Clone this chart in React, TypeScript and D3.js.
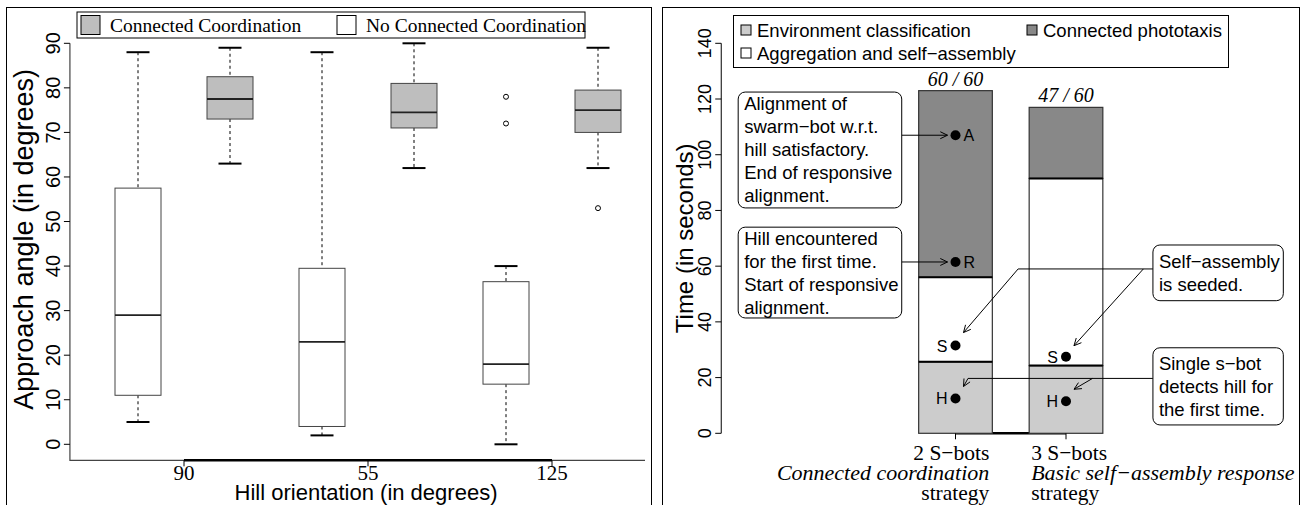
import React, { useEffect, useRef } from 'react';
import * as d3 from 'd3';

// left panel: approach angle per hill orientation
const orientationTicks = ['90', '55', '125'];
const boxKind = ['open', 'conn', 'open', 'conn', 'open', 'conn'];
const whiskerLow = [5, 63, 2, 62, 0, 62];
const quart1 = [11, 73, 4, 71, 13.5, 70];
const medians = [29, 77.5, 23, 74.5, 18, 75];
const quart3 = [57.5, 82.5, 39.5, 81, 36.5, 79.5];
const whiskerHigh = [88, 89, 88, 90, 40, 89];
const outliers = [[], [], [], [], [72, 78], [53]];
const angleTicks = [0, 10, 20, 30, 40, 50, 60, 70, 80, 90];

// right panel: time spent per phase
const botLabels = ['2 S\u2212bots', '3 S\u2212bots'];
const strategyLabels = ['Connected coordination', 'Basic self\u2212assembly response'];
const envTime = [25.7, 24.3];
const aggTime = [30.3, 67.2];
const photoTime = [67, 25.5];
const successLabels = ['60 / 60', '47 / 60'];
const timeTicks = [0, 20, 40, 60, 80, 100, 120, 140];
const eventNames = ['A', 'R', 'S', 'H', 'S', 'H'];
const eventBar = [0, 0, 0, 0, 1, 1];
const eventTime = [107, 61.5, 31.5, 12.5, 27.5, 11.5];

const SANS = 'Liberation Sans, Arial, Helvetica, sans-serif';
const SERIF = 'Liberation Serif, Times New Roman, serif';

const App = () => {
  const svgRef = useRef(null);

  useEffect(() => {
    const svg = d3.select(svgRef.current);
    svg.selectAll('*').remove();

    // ---------- left panel ----------
    const left = svg.append('g');
    left.append('rect').attr('x', 6.5).attr('y', 7.5).attr('width', 645).attr('height', 520)
      .attr('fill', 'none').attr('stroke', '#000');

    const x = d3.scaleLinear().domain([1.5, 5.5]).range([184, 552]);
    const y = d3.scaleLinear().domain([0, 90]).range([444.3, 43.3]);
    const boxW = x(1.5) - x(1);
    const yBottom = y(-3.6);

    // L-shaped frame
    left.append('path')
      .attr('d', `M${x(0.26)},${y(90)}V${yBottom}H645`)
      .attr('fill', 'none').attr('stroke', '#444').attr('stroke-width', 1.2);

    angleTicks.forEach(t => {
      left.append('line').attr('x1', x(0.26) - 6).attr('x2', x(0.26)).attr('y1', y(t)).attr('y2', y(t))
        .attr('stroke', '#000');
      left.append('text')
        .attr('transform', `translate(${x(0.26) - 10},${y(t)}) rotate(-90)`)
        .attr('text-anchor', 'middle').attr('font-family', SANS).attr('font-size', 20)
        .text(t);
    });

    left.append('line').attr('x1', x(1.5)).attr('x2', x(5.5)).attr('y1', yBottom).attr('y2', yBottom)
      .attr('stroke', '#000').attr('stroke-width', 2.5);
    orientationTicks.forEach((t, i) => {
      const px = x(1.5 + i * 2);
      left.append('line').attr('x1', px).attr('x2', px).attr('y1', yBottom).attr('y2', yBottom + 6)
        .attr('stroke', '#000');
      left.append('text').attr('x', px).attr('y', 480).attr('text-anchor', 'middle')
        .attr('font-family', SERIF).attr('font-size', 21).text(t);
    });

    left.append('text').attr('x', 366).attr('y', 500).attr('text-anchor', 'middle')
      .attr('font-family', SANS).attr('font-size', 22).text('Hill orientation (in degrees)');
    left.append('text').attr('transform', `translate(33,${y(46)}) rotate(-90)`)
      .attr('text-anchor', 'middle').attr('font-family', SANS).attr('font-size', 27)
      .text('Approach angle (in degrees)');

    boxKind.forEach((k, i) => {
      const cx = x(i + 1);
      const g = left.append('g');
      g.append('line').attr('x1', cx).attr('x2', cx).attr('y1', y(whiskerHigh[i])).attr('y2', y(quart3[i]))
        .attr('stroke', '#000').attr('stroke-dasharray', '3,3');
      g.append('line').attr('x1', cx).attr('x2', cx).attr('y1', y(quart1[i])).attr('y2', y(whiskerLow[i]))
        .attr('stroke', '#000').attr('stroke-dasharray', '3,3');
      [whiskerHigh[i], whiskerLow[i]].forEach(v => {
        g.append('line').attr('x1', cx - boxW / 4).attr('x2', cx + boxW / 4).attr('y1', y(v)).attr('y2', y(v))
          .attr('stroke', '#000').attr('stroke-width', 2);
      });
      g.append('rect').attr('x', cx - boxW / 2).attr('y', y(quart3[i]))
        .attr('width', boxW).attr('height', y(quart1[i]) - y(quart3[i]))
        .attr('fill', k === 'conn' ? '#bebebe' : '#fff').attr('stroke', '#444');
      g.append('line').attr('x1', cx - boxW / 2).attr('x2', cx + boxW / 2).attr('y1', y(medians[i])).attr('y2', y(medians[i]))
        .attr('stroke', '#222').attr('stroke-width', 1.8);
      outliers[i].forEach(v => {
        g.append('circle').attr('cx', cx).attr('cy', y(v)).attr('r', 2.5)
          .attr('fill', 'none').attr('stroke', '#000');
      });
    });

    // legend
    const lg = left.append('g');
    lg.append('rect').attr('x', 77).attr('y', 12).attr('width', 508).attr('height', 26)
      .attr('fill', '#fff').attr('stroke', '#000');
    [['Connected Coordination', '#bebebe', 81], ['No Connected Coordination', '#fff', 337]].forEach(([label, fill, px]) => {
      lg.append('rect').attr('x', px).attr('y', 15.5).attr('width', 19).attr('height', 19)
        .attr('fill', fill).attr('stroke', '#000');
      lg.append('text').attr('x', +px + 29).attr('y', 32).attr('font-family', SERIF).attr('font-size', 19.5)
        .text(label);
    });

    // ---------- right panel ----------
    const right = svg.append('g');
    right.append('rect').attr('x', 662.5).attr('y', 7.5).attr('width', 637).attr('height', 520)
      .attr('fill', 'none').attr('stroke', '#000');

    const xb = d3.scaleLinear().domain([1, 2.5]).range([955.5, 1066]);
    const yt = d3.scaleLinear().domain([0, 140]).range([433.3, 43.3]);
    const axisX = xb(-2.18);

    right.append('line').attr('x1', axisX).attr('x2', axisX).attr('y1', yt(0)).attr('y2', yt(140))
      .attr('stroke', '#000');
    timeTicks.forEach(t => {
      right.append('line').attr('x1', axisX - 6).attr('x2', axisX).attr('y1', yt(t)).attr('y2', yt(t))
        .attr('stroke', '#000');
      right.append('text').attr('transform', `translate(${axisX - 10},${yt(t)}) rotate(-90)`)
        .attr('text-anchor', 'middle').attr('font-family', SANS).attr('font-size', 18).text(t);
    });
    right.append('text').attr('transform', `translate(693,${yt(70)}) rotate(-90)`)
      .attr('text-anchor', 'middle').attr('font-family', SANS).attr('font-size', 24)
      .text('Time (in seconds)');

    const centers = [1, 2.5];
    const barW = xb(1.5) - xb(0.5);
    right.append('line').attr('x1', xb(1)).attr('x2', xb(2.5)).attr('y1', yt(0)).attr('y2', yt(0))
      .attr('stroke', '#000').attr('stroke-width', 2.5);

    centers.forEach((c, i) => {
      const x0 = xb(c) - barW / 2;
      const stack = [
        [0, envTime[i], '#cccccc'],
        [envTime[i], envTime[i] + aggTime[i], '#ffffff'],
        [envTime[i] + aggTime[i], envTime[i] + aggTime[i] + photoTime[i], '#888888'],
      ];
      stack.forEach(([a, b, fill]) => {
        right.append('rect').attr('x', x0).attr('y', yt(b)).attr('width', barW).attr('height', yt(a) - yt(b))
          .attr('fill', fill).attr('stroke', '#333').attr('stroke-width', 1.2);
      });
      [envTime[i], envTime[i] + aggTime[i]].forEach(v => {
        right.append('line').attr('x1', x0).attr('x2', x0 + barW).attr('y1', yt(v)).attr('y2', yt(v))
          .attr('stroke', '#000').attr('stroke-width', 2);
      });
      const top = envTime[i] + aggTime[i] + photoTime[i];
      right.append('text').attr('x', xb(c)).attr('y', yt(top) - 5).attr('text-anchor', 'middle')
        .attr('font-family', SERIF).attr('font-style', 'italic').attr('font-size', 20).text(successLabels[i]);

      right.append('line').attr('x1', xb(c)).attr('x2', xb(c)).attr('y1', yt(0)).attr('y2', yt(0) + 6)
        .attr('stroke', '#000');
      const anchor = i === 0 ? 'end' : 'start';
      const lx = i === 0 ? x0 + barW - 3 : x0 + 2;
      right.append('text').attr('x', lx).attr('y', 460).attr('text-anchor', anchor)
        .attr('font-family', SERIF).attr('font-size', 21.5).text(botLabels[i]);
      right.append('text').attr('x', lx).attr('y', 480).attr('text-anchor', anchor)
        .attr('font-family', SERIF).attr('font-style', 'italic').attr('font-size', 22).text(strategyLabels[i]);
      right.append('text').attr('x', lx).attr('y', 500).attr('text-anchor', anchor)
        .attr('font-family', SERIF).attr('font-size', 21.5).text('strategy');
    });

    // annotation boxes
    const notes = [
      { lines: ['Alignment of', 'swarm\u2212bot w.r.t.', 'hill satisfactory.', 'End of responsive', 'alignment.'], u0: -1.95, u1: 0.27, v0: 122.5, v1: 80.9 },
      { lines: ['Hill encountered', 'for the first time.', 'Start of responsive', 'alignment.'], u0: -1.95, u1: 0.27, v0: 74, v1: 41.4 },
      { lines: ['Self\u2212assembly', 'is seeded.'], u0: 3.68, u1: 5.45, v0: 67.6, v1: 47.6 },
      { lines: ['Single s\u2212bot', 'detects hill for', 'the first time.'], u0: 3.68, u1: 5.45, v0: 30.7, v1: 3 },
    ];

    const arrowHead = (x1, y1, x2, y2) => {
      const a = Math.atan2(y2 - y1, x2 - x1);
      const len = 8;
      const s = Math.PI / 7;
      return `M${x2 - len * Math.cos(a - s)},${y2 - len * Math.sin(a - s)}L${x2},${y2}L${x2 - len * Math.cos(a + s)},${y2 - len * Math.sin(a + s)}`;
    };
    const arrow = (pts) => {
      const p = pts.map(([a, b]) => `${a},${b}`).join('L');
      const [x1, y1] = pts[pts.length - 2];
      const [x2, y2] = pts[pts.length - 1];
      right.append('path').attr('d', `M${p}`).attr('fill', 'none').attr('stroke', '#000');
      right.append('path').attr('d', arrowHead(x1, y1, x2, y2)).attr('fill', 'none').attr('stroke', '#000');
    };

    const ev = eventTime.map((t, i) => [xb(centers[eventBar[i]]), yt(t)]);
    // box -> A, box -> R
    arrow([[xb(0.27), ev[0][1]], [ev[0][0] - 8, ev[0][1]]]);
    arrow([[xb(0.27), ev[1][1]], [ev[1][0] - 8, ev[1][1]]]);
    // self-assembly seeded -> both S
    arrow([[xb(3.68), yt(59)], [xb(1.85), yt(59)], [ev[2][0] + 8, ev[2][1] - 13]]);
    arrow([[xb(3.55), yt(59)], [ev[4][0] + 8, ev[4][1] - 11]]);
    // single s-bot detects hill -> both H
    arrow([[xb(3.68), yt(19.7)], [xb(1.17), yt(19.7)], [ev[3][0] + 8, ev[3][1] - 12]]);
    arrow([[xb(2.86), yt(19.7)], [ev[5][0] + 8, ev[5][1] - 12]]);

    notes.forEach(n => {
      const bx = xb(n.u0), by = yt(n.v0);
      const bw = xb(n.u1) - bx, bh = yt(n.v1) - by;
      right.append('rect').attr('x', bx).attr('y', by).attr('width', bw).attr('height', bh)
        .attr('rx', 7).attr('fill', '#fff').attr('stroke', '#000');
      const lh = 23;
      const startY = by + bh / 2 - (n.lines.length - 1) * lh / 2 + 6.5;
      n.lines.forEach((l, j) => {
        right.append('text').attr('x', bx + 6).attr('y', startY + j * lh)
          .attr('font-family', SANS).attr('font-size', 18.5).text(l);
      });
    });

    ev.forEach(([px, py], i) => {
      right.append('circle').attr('cx', px).attr('cy', py).attr('r', 5).attr('fill', '#000');
      const after = eventNames[i] === 'A' || eventNames[i] === 'R';
      right.append('text').attr('x', after ? px + 8 : px - 8).attr('y', py + 6)
        .attr('text-anchor', after ? 'start' : 'end')
        .attr('font-family', SANS).attr('font-size', 16).text(eventNames[i]);
    });

    // legend
    const rl = right.append('g');
    rl.append('rect').attr('x', 733.5).attr('y', 15.5).attr('width', 495).attr('height', 52)
      .attr('fill', '#fff').attr('stroke', '#000');
    const items = [
      ['Environment classification', '#cccccc', 741, 30],
      ['Connected phototaxis', '#888888', 1027, 30],
      ['Aggregation and self\u2212assembly', '#ffffff', 741, 53],
    ];
    items.forEach(([label, fill, px, py]) => {
      rl.append('rect').attr('x', +px).attr('y', +py - 5).attr('width', 10).attr('height', 10)
        .attr('fill', fill).attr('stroke', '#000');
      rl.append('text').attr('x', +px + 16).attr('y', +py + 7).attr('font-family', SANS).attr('font-size', 18.5)
        .text(label);
    });
  }, []);

  return (
    <svg ref={svgRef} width={1303} height={505}
      style={{ position: 'absolute', left: 0, top: 0, background: '#fff' }} />
  );
};

export default App;
